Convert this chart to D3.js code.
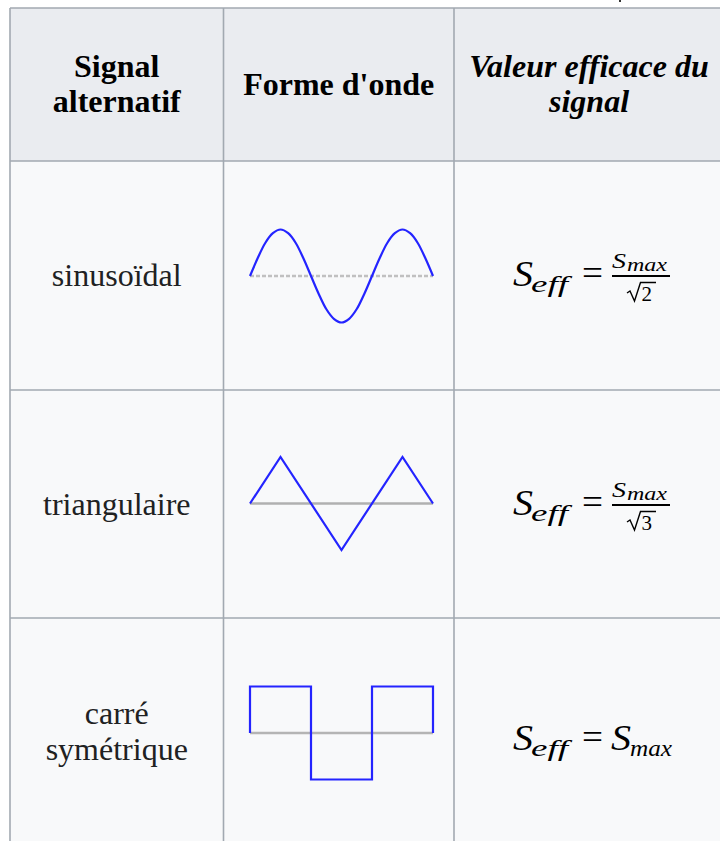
<!DOCTYPE html>
<html><head><meta charset="utf-8">
<script src="https://cdn.jsdelivr.net/npm/d3@7"></script>
<style>html,body{margin:0;padding:0;background:#fff;}svg{display:block;}</style>
</head><body>
<script>
// ---- data ----
const headers = [["Signal","alternatif"],["Forme d'onde"],["Valeur efficace du","signal"]];
const headerStyles = ["normal","normal","italic"];
const signalNames = [["sinusoïdal"],["triangulaire"],["carré","symétrique"]];
const denominators = ["2","3",null];
// waveform samples (x in quarter-periods, y in amplitude units)
const sineX = [0,0.25,0.5,0.75,1,1.25,1.5,1.75,2,2.25,2.5,2.75,3,3.25,3.5,3.75,4,4.25,4.5,4.75,5,5.25,5.5,5.75,6];
const sineY = [0,0.38,0.71,0.92,1,0.92,0.71,0.38,0,-0.38,-0.71,-0.92,-1,-0.92,-0.71,-0.38,0,0.38,0.71,0.92,1,0.92,0.71,0.38,0];
const triX = [0,1,3,5,6];
const triY = [0,1,-1,1,0];
const sqX = [0,0,2,2,4,4,6,6];
const sqY = [0,1,1,-1,-1,1,1,0];

// ---- layout ----
const W=720,H=841;
const svg=d3.select("body").append("svg").attr("width",W).attr("height",H);
const colX=[10,223.5,454,723];
const rowY=[8,161,390,618,846];
const border="#a2a9b1", txt="#202122";
const serif="'Liberation Serif','Times New Roman',serif";

// backgrounds
svg.append("rect").attr("x",colX[0]).attr("y",rowY[0]).attr("width",colX[3]-colX[0]).attr("height",rowY[1]-rowY[0]).attr("fill","#eaecf0");
svg.append("rect").attr("x",colX[0]).attr("y",rowY[1]).attr("width",colX[3]-colX[0]).attr("height",rowY[4]-rowY[1]).attr("fill","#f8f9fa");
// grid lines
rowY.forEach(y=>svg.append("line").attr("x1",colX[0]).attr("x2",colX[3]).attr("y1",y).attr("y2",y).attr("stroke",border).attr("stroke-width",1.6));
colX.forEach(x=>svg.append("line").attr("x1",x).attr("x2",x).attr("y1",rowY[0]).attr("y2",rowY[4]).attr("stroke",border).attr("stroke-width",1.6));
// stray mark above table
svg.append("rect").attr("x",619).attr("y",0).attr("width",2).attr("height",2).attr("fill","#333");

// header text
const hBase=[[77,112],[95],[77,112]];
headers.forEach((lines,i)=>{
  const cx=i===2?589:(colX[i]+colX[i+1])/2;
  lines.forEach((t,j)=>{
    svg.append("text").attr("x",cx).attr("y",hBase[i][j]).attr("text-anchor","middle")
      .attr("font-family",serif).attr("font-size",32).attr("font-weight","bold")
      .attr("font-style",headerStyles[i]).attr("fill","#000").text(t);
  });
});

// signal names
const nameBase=[[286],[515],[724,760]];
signalNames.forEach((lines,i)=>{
  const cx=(colX[0]+colX[1])/2;
  lines.forEach((t,j)=>{
    svg.append("text").attr("x",cx).attr("y",nameBase[i][j]).attr("text-anchor","middle")
      .attr("font-family",serif).attr("font-size",32).attr("fill",txt).text(t);
  });
});

// waveforms
const x=d3.scaleLinear().domain([0,6]).range([250,433]);
const mids=[276,503.5,733];
const amp=46.5;
const waves=[
  {xs:sineX,ys:sineY,curve:d3.curveCatmullRom,dash:"4,2",mid:"#c0c0c0"},
  {xs:triX,ys:triY,curve:d3.curveLinear,dash:null,mid:"#b0b0b0"},
  {xs:sqX,ys:sqY,curve:d3.curveLinear,dash:null,mid:"#b4b4b4"}
];
waves.forEach((w,i)=>{
  const y=d3.scaleLinear().domain([-1,1]).range([mids[i]+amp,mids[i]-amp]);
  svg.append("line").attr("x1",x(0)).attr("x2",x(6)).attr("y1",y(0)).attr("y2",y(0))
    .attr("stroke",w.mid).attr("stroke-width",2.5).attr("stroke-dasharray",w.dash);
  const pts=w.xs.map((v,k)=>[v,w.ys[k]]);
  const line=d3.line().x(d=>x(d[0])).y(d=>y(d[1])).curve(w.curve);
  svg.append("path").attr("d",line(pts)).attr("fill","none")
    .attr("stroke","#2424ff").attr("stroke-width",2.2).attr("stroke-linejoin","miter");
});

// formulas
const fBase=[286,515,750];
function it(xp,yp,size,t,len){
  const e=svg.append("text").attr("x",xp).attr("y",yp).attr("font-family",serif)
    .attr("font-style","italic").attr("font-size",size).attr("fill","#000").text(t);
  if(len) e.attr("textLength",len).attr("lengthAdjust","spacingAndGlyphs");
  return e;
}
fBase.forEach((b,i)=>{
  it(513,b,36,"S",20);
  it(531,b+6,24,"eff",37);
  svg.append("text").attr("x",582).attr("y",b-1).attr("font-family",serif).attr("font-size",36)
    .attr("fill","#000").attr("textLength",21).attr("lengthAdjust","spacingAndGlyphs").text("=");
  if(denominators[i]!==null){
    it(612,b-18,21,"S",14);
    it(627,b-15,19,"max",40);
    svg.append("line").attr("x1",612).attr("x2",670).attr("y1",b-10).attr("y2",b-10)
      .attr("stroke","#000").attr("stroke-width",2);
    svg.append("path").attr("d",`M627,${b+7} L630,${b+5} L634.5,${b+15} L640.5,${b-3.5} L656,${b-3.5}`)
      .attr("fill","none").attr("stroke","#000").attr("stroke-width",1.4);
    svg.append("text").attr("x",641.5).attr("y",b+15).attr("font-family",serif).attr("font-size",21)
      .attr("fill","#000").text(denominators[i]);
  } else {
    it(611,b,36,"S",20);
    it(630,b+6,24,"max",42);
  }
});
</script>
</body></html>
